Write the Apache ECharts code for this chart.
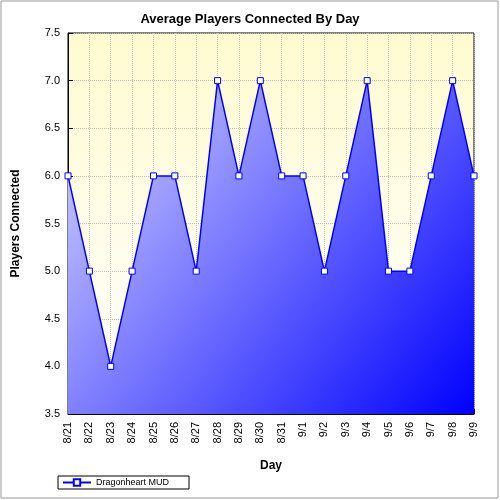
<!DOCTYPE html>
<html><head><meta charset="utf-8">
<script src="https://cdn.jsdelivr.net/npm/echarts@6/dist/echarts.min.js"></script>
<style>html,body{margin:0;padding:0;background:#fff}#c{width:500px;height:500px}</style>
</head><body><div id="c"></div>
<script>
const categories = ['8/21','8/22','8/23','8/24','8/25','8/26','8/27','8/28','8/29','8/30','8/31','9/1','9/2','9/3','9/4','9/5','9/6','9/7','9/8','9/9'];
const players = [6,5,4,5,6,6,5,7,6,7,6,6,5,6,7,5,5,6,7,6];
const chart = echarts.init(document.getElementById('c'));
chart.setOption({
  animation:false,
  title:{text:'Average Players Connected By Day',left:'center',top:8,textStyle:{fontSize:13,fontWeight:'bold',color:'#000',fontFamily:'Arial'}},
  graphic:[{type:'rect',shape:{x:1,y:1,width:497,height:497},style:{fill:null,stroke:'#999',lineWidth:1},z:-10}],
  grid:{left:68,right:26,top:33,bottom:86,backgroundColor:{type:'linear',x:0,y:0,x2:0,y2:1,colorStops:[{offset:0,color:'#fffbd0'},{offset:1,color:'#ffffff'}]},show:true,borderColor:'#000',borderWidth:1},
  legend:{left:58,top:476,itemWidth:28,itemHeight:8,textStyle:{fontSize:9,fontFamily:'Arial',color:'#000'},borderColor:'#000',borderWidth:1,padding:[2,20,2,4],borderRadius:0},
  xAxis:{type:'category',data:categories,boundaryGap:false,name:'Day',nameLocation:'middle',nameGap:46,nameTextStyle:{fontWeight:'bold',fontSize:12,fontFamily:'Arial',color:'#000'},
    axisLine:{lineStyle:{color:'#000'}},axisTick:{inside:true,alignWithLabel:true,lineStyle:{color:'#000'}},
    axisLabel:{rotate:90,fontSize:11,fontFamily:'Arial',color:'#000'},
    splitLine:{show:true,lineStyle:{type:'dotted',color:'#bbb'}}},
  yAxis:{type:'value',min:3.5,max:7.5,interval:0.5,name:'Players Connected',nameLocation:'middle',nameGap:46,nameTextStyle:{fontWeight:'bold',fontSize:12,fontFamily:'Arial',color:'#000'},
    axisLine:{show:true,lineStyle:{color:'#000'}},axisTick:{show:true,inside:true,lineStyle:{color:'#000'}},
    axisLabel:{formatter:v=>v.toFixed(1),fontSize:11,fontFamily:'Arial',color:'#000'},
    splitLine:{show:true,lineStyle:{type:'dotted',color:'#bbb'}}},
  series:[{name:'Dragonheart MUD',type:'line',data:players,symbol:'rect',symbolSize:6,
    itemStyle:{color:'#fff',borderColor:'#0000ff',borderWidth:1},
    lineStyle:{color:'#0000ff',width:1.5},
    areaStyle:{opacity:1,color:{type:'linear',x:0,y:0,x2:1,y2:1,colorStops:[{offset:0,color:'#d8d8ff'},{offset:1,color:'#0000ff'}]}}}]
});
</script></body></html>
